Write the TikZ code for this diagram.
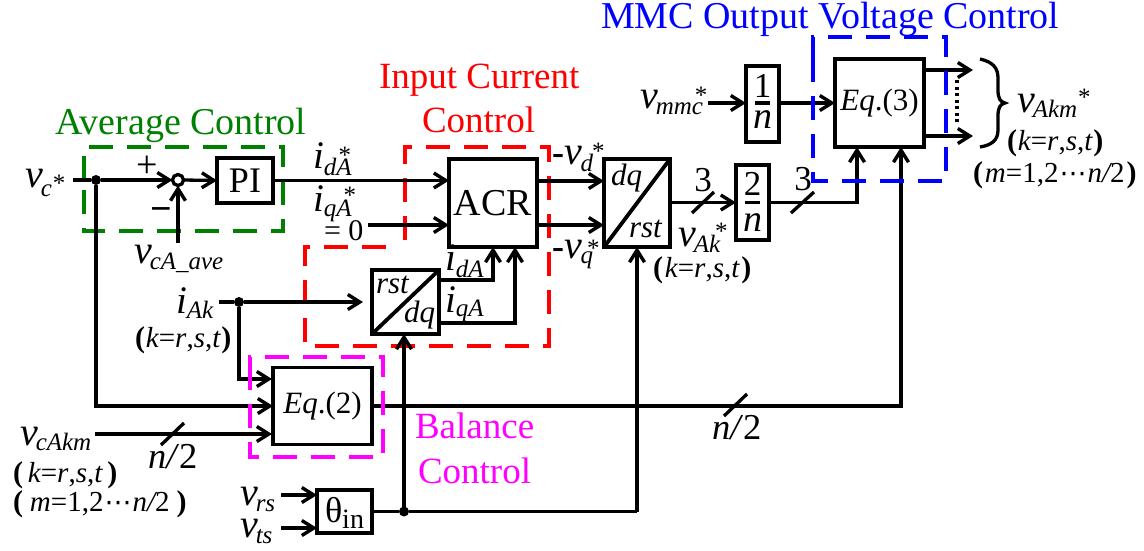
\documentclass[tikz,border=0pt]{standalone}
\usepackage{fontspec}
\setmainfont{Liberation Serif}
\newfontfamily\dejav{DejaVu Sans}
\usetikzlibrary{arrows.meta,calc}
\newcommand\fs[1]{\fontsize{#1}{#1}\selectfont}
\newcommand\mi[1]{{\fs{40}\itshape #1}\hspace{-2pt}}
\newcommand\ii[1]{{\fs{39}\itshape #1}}
\newcommand\sbx[2]{\raisebox{-#1pt}{\fs{25}\itshape #2}}
\newcommand\stx[2]{\hspace*{#1pt}\raisebox{#2pt}{\fs{25}*}}
\newcommand\pbold[1]{{\fs{30}\bfseries #1}}
\newcommand\kst[1][1pt]{\pbold{(}\hspace{#1}{\fs{29}\itshape k}{\fs{29}=}{\fs{29}\itshape r}{\fs{29},}{\fs{29}\itshape s}{\fs{29},}{\fs{29}\itshape t}\hspace{#1}\pbold{)}}
\newcommand\mlist[1][2pt]{\pbold{(}\hspace{#1}{\fs{29}\itshape m}{\fs{29}=1,2}\hspace{1pt}{\dejav\fs{27}⋯}\hspace{1pt}{\fs{29}\itshape n/}{\fs{29}2}\hspace{#1}\pbold{)}}
\definecolor{gctl}{RGB}{0,128,0}
\definecolor{mctl}{RGB}{255,0,255}
\definecolor{rctl}{RGB}{255,0,0}
\definecolor{bctl}{RGB}{0,0,255}
\tikzset{
  >={Straight Barb[length=12pt,width=15pt,line width=3.4pt]},
  wire/.style={line width=3.3pt,line join=miter},
  arr/.style={wire,->},
  blk/.style={draw,line width=3.8pt,inner sep=0,outer sep=0,fill=white},
  lbl/.style={anchor=base west,inner sep=0,outer sep=0},
  dsh/.style={line width=3.2pt,dash pattern=on 24pt off 14pt},
  dot/.style={circle,fill=black,draw=none,minimum size=10pt,inner sep=0,outer sep=0},
  tick/.style={line width=3.3pt}
}
\begin{document}
\begin{tikzpicture}[x=1pt,y=-1pt]
\useasboundingbox (0,0) rectangle (1144,550);
% dashed regions below wires
\draw[dsh,gctl] (84,180) -- (84,147) -- (283,147) -- (283,231) -- (84,231) -- cycle;
\draw[dsh,rctl] (405,240) -- (405,147) -- (549,147) -- (549,346) -- (305,346) -- (305,247) -- (398,247);

% blocks
\node[blk,minimum width=56pt,minimum height=45pt] (pi) at (245,180.5) {\fs{36}PI};
\node[blk,minimum width=88pt,minimum height=88pt] (acr) at (493,203) {\fs{38}ACR};
\node[blk,minimum width=66pt,minimum height=88pt] (dqr) at (637,203) {};
\node[blk,minimum width=67pt,minimum height=64pt] (rdq) at (405.5,302) {};
\node[blk,minimum width=99pt,minimum height=77pt] (eq2) at (322.5,406) {\fs{31}\textit{Eq}.(2)};
\node[blk,minimum width=55pt,minimum height=43pt] (th) at (344.5,511.5) {};
\node[blk,minimum width=33pt,minimum height=75pt] (twon) at (752.5,202.5) {};
\node[blk,minimum width=33pt,minimum height=76pt] (onen) at (762.5,104) {};
\node[blk,minimum width=89pt,minimum height=88pt] (eq3) at (879.5,103) {\fs{31}\textit{Eq}.(3)};
\node[circle,draw,line width=3.3pt,minimum size=11pt,inner sep=0,outer sep=0,fill=white] (sum) at (178,180) {};
\node[dot] (j1) at (96,180) {};
\node[dot] (j2) at (239,302) {};
\node[dot] (j3) at (404,511.5) {};

% free ends
\coordinate (vcs) at (73,180);
\coordinate (vca) at (178,243);
\coordinate (q0) at (368,225);
\coordinate (iaks) at (219,302);
\coordinate (iake) at (363,302);
\coordinate (e2a) at (272,379);
\coordinate (vcks) at (95,434);
\coordinate (e2c) at (272,434);
\coordinate (rs1) at (281,495);
\coordinate (rs2) at (317,495);
\coordinate (ts1) at (281,528);
\coordinate (ts2) at (317,528);
\coordinate (dqy1) at (604,181);
\coordinate (dqy2) at (604,225);
\coordinate (mms) at (708,103);
\coordinate (o1) at (973,70);
\coordinate (o2) at (973,136);
\coordinate (ein) at (857,202.5);
\coordinate (ebal) at (901,406);
\coordinate (idc) at (493,280);
\coordinate (iqc) at (515,323);

% connectors
\draw[arr] (vcs) -- (j1) -- (sum.west);
\draw[arr] (vca) -- (sum.south);
\draw[arr] (sum.east) -- (pi.west);
\draw[arr] (pi.east) -- (pi.east -| acr.west);
\draw[arr] (q0) -- (q0 -| acr.west);
\draw[arr] (j1) |- (eq2.west);
\draw[arr] (iaks) -- (j2) -- (iake);
\draw[arr] (j2) |- (e2a);
\draw[arr] (vcks) -- (e2c);
\draw[arr] (eq2.east) -- (ebal) -- (ebal |- eq3.south);
\draw[wire] (th.east) -- (j3) -- (j3 -| dqr.south);
\draw[arr] (j3 -| dqr.south) -- (dqr.south);
\draw[arr] (j3) -- (j3 |- rdq.south);
\draw[arr] (rs1) -- (rs2);
\draw[arr] (ts1) -- (ts2);
\draw[arr] (idc -| rdq.east) -- (idc) -- (idc |- acr.south);
\draw[arr] (iqc -| rdq.east) -- (iqc) -- (iqc |- acr.south);
\draw[arr] (dqy1 -| acr.east) -- (dqy1);
\draw[arr] (dqy2 -| acr.east) -- (dqy2);
\draw[arr] (ein -| dqr.east) -- (ein -| twon.west);
\draw[arr] (ein -| twon.east) -- (ein) -- (ein |- eq3.south);
\draw[arr] (mms) -- (mms -| onen.west);
\draw[arr] (mms -| onen.east) -- (mms -| eq3.west);
\draw[arr] (o1 -| eq3.east) -- (o1);
\draw[arr] (o2 -| eq3.east) -- (o2);

% diagonals, fraction bars, tick marks
\draw[line width=3.8pt] (dqr.south west) -- (dqr.north east);
\draw[line width=3.8pt] (rdq.south west) -- (rdq.north east);
\draw[line width=3.3pt] (745,202.5) -- (760,202.5);
\draw[line width=3.3pt] (755,103) -- (770,103);
\draw[tick] (161,445) -- (184,423);
\draw[tick] (724,416) -- (747,394);
\draw[tick] (692,213) -- (714,192);
\draw[tick] (791,213) -- (814,192);
\draw[line width=3.5pt,dash pattern=on 3pt off 3.5pt] (957,80) -- (957,124);
\draw[line width=3.3pt] (980,59) .. controls (993,62) and (998,68) .. (998,78) -- (998,90) .. controls (998,98) and (1000,102) .. (1005,103) .. controls (1000,104) and (998,108) .. (998,116) -- (998,130) .. controls (998,140) and (992,145) .. (980,147);

% dashed regions above wires
\draw[dsh,mctl] (250,380) -- (250,357) -- (383,357) -- (383,457) -- (250,457) -- cycle;
\draw[dsh,bctl] (813,60) -- (813,37) -- (946,37) -- (946,181) -- (813,181) -- cycle;

% region titles
\node[lbl,text=gctl] (tavg) at (55,134) {\fs{38}Average Control};
\node[lbl,text=rctl] (tin1) at (379,88) {\fs{37}Input Current};
\node[lbl,text=rctl] (tin2) at (422,132) {\fs{37}Control};
\node[lbl,text=bctl] (tmmc) at (601,28) {\fs{38}MMC Output Voltage Control};
\node[lbl,text=mctl] (tb1) at (415,438) {\fs{37}Balance};
\node[lbl,text=mctl] (tb2) at (418,483) {\fs{37}Control};

% labels
\node[lbl] (lvc) at (25,187) {\mi{v}\sbx{9}{c}\stx{1}{-4}};
\node[lbl] (lplus) at (136,177.5) {\fs{38}+};
\node[lbl] (lminus) at (150,221.5) {\fs{38}\bfseries −};
\node[lbl] (lid) at (313,168) {\ii{i}\sbx{7}{dA}\stx{-13}{5}};
\node[lbl] (liq) at (313,211) {\ii{i}\sbx{5}{qA}\stx{-8}{8}};
\node[lbl] (leq0) at (324,240) {\fs{30}= 0};
\node[lbl] (lave) at (134,263) {\mi{v}\sbx{6}{cA\_ave}};
\node[lbl] (liak) at (176,313) {\ii{i}\sbx{5}{Ak}};
\node[lbl] (lk1) at (135,347) {\kst};
\node[lbl] (lvd) at (552,164) {{\fs{36}\bfseries -}\hspace{1pt}\mi{v}\sbx{7}{d}\stx{-1}{5}};
\node[lbl] (lvq) at (552,258) {{\fs{36}\bfseries -}\hspace{1pt}\mi{v}\sbx{5}{q}\stx{-6}{2}};
\node[lbl] (ldq1) at (611,185) {\fs{31}\itshape dq};
\node[lbl] (lrst1) at (629,237) {\fs{31}\itshape rst};
\node[lbl] (ldq2) at (404,322) {\fs{31}\itshape dq};
\node[lbl] (lrst2) at (376,293) {\fs{31}\itshape rst};
\node[lbl] (lidq) at (445,270) {\ii{i}\sbx{7}{dA}};
\node[lbl] (liqq) at (445,312) {\ii{i}\sbx{4}{qA}};
\node[anchor=base,inner sep=0] (l3a) at (703,191) {\fs{35}3};
\node[anchor=base,inner sep=0] (l3b) at (803,190) {\fs{35}3};
\node[anchor=base,inner sep=0] (l2) at (752.5,195) {\fs{35}2};
\node[anchor=base,inner sep=0] (ln2) at (752.5,231) {\fs{38}\itshape n};
\node[anchor=base,inner sep=0] (l1) at (762.5,97) {\fs{35}1};
\node[anchor=base,inner sep=0] (ln1) at (762.5,128) {\fs{38}\itshape n};
\node[lbl] (lvak) at (678,246) {\mi{v}\sbx{6}{Ak}\stx{-5}{7}};
\node[lbl] (lk2) at (653,277) {\kst[2pt]};
\node[lbl] (lmmc) at (640,108) {\mi{v}\sbx{6}{mmc}\stx{-8}{5}};
\node[lbl] (lakm) at (1017,112) {\mi{v}\sbx{5}{Akm}\stx{1}{7}};
\node[lbl] (lk3) at (1007,150) {\kst};
\node[lbl] (lm3) at (973,182) {\mlist};
\node[lbl] (lck) at (20,445) {\mi{v}\sbx{5}{cAkm}};
\node[lbl] (lk4) at (13,482) {\kst[5pt]};
\node[lbl] (lm4) at (13,511) {\mlist[7pt]};
\node[lbl] (ln21) at (148,468) {\fs{36.5}\textit{n/}2};
\node[lbl] (ln22) at (712,439) {\fs{36.5}\textit{n/}2};
\node[lbl] (lrs) at (240,505) {\mi{v}\sbx{6}{rs}};
\node[lbl] (lts) at (240,537) {\mi{v}\sbx{6}{ts}};
\node[lbl] (lth) at (325,522) {\fs{36}θ\raisebox{-6pt}{\fs{28}in}};
\end{tikzpicture}
\end{document}
